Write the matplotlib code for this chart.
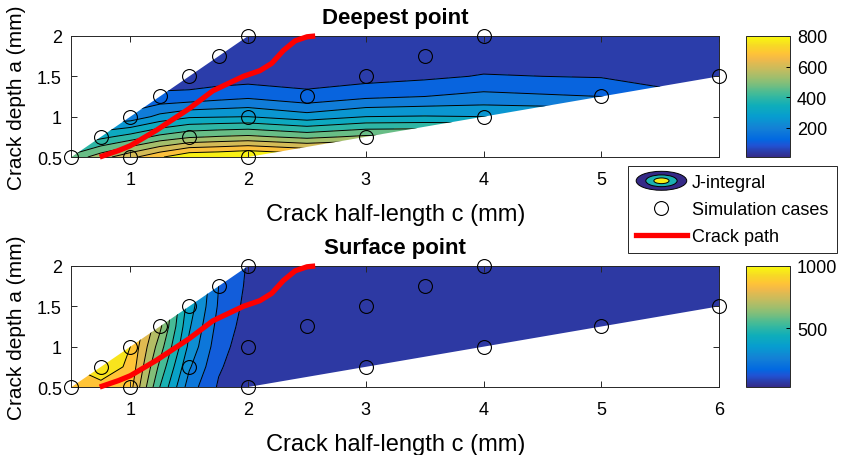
import numpy as np
import matplotlib
matplotlib.use("Agg")
import matplotlib.pyplot as plt
from matplotlib.colors import LinearSegmentedColormap, Normalize
from matplotlib.patches import Polygon, Ellipse
from matplotlib.legend_handler import HandlerBase
from matplotlib.lines import Line2D
from matplotlib.cm import ScalarMappable

plt.rcParams['font.family'] = ['Liberation Sans', 'DejaVu Sans']

c_nodes = [0.5, 0.75, 1.0, 1.25, 1.5, 1.75, 2.0, 2.5, 3.0, 3.5, 4.0, 5.0, 6.0]
a_nodes = [0.5, 0.75, 1.0, 1.25, 1.5, 1.75, 2.0]

# rows = a_nodes, cols = c_nodes
J_deepest = [
    [450, 540, 620, 700, 770, 780, 800, 760, 780, 790, 800, 800, 800],
    [300, 340, 390, 450, 490, 505, 515, 480, 515, 520, 520, 520, 520],
    [170, 170, 175, 240, 280, 285, 290, 250, 290, 295, 290, 280, 270],
    [80, 80, 85, 95, 100, 120, 135, 100, 135, 150, 170, 150, 80],
    [40, 40, 40, 40, 40, 42, 45, 45, 50, 65, 85, 75, 45],
    [25, 28, 28, 28, 30, 30, 30, 30, 30, 32, 40, 35, 35],
    [20, 20, 20, 20, 20, 20, 20, 20, 20, 22, 25, 25, 25],
]
J_surface = [
    [850, 870, 850, 500, 220, 90, 40, 30, 28, 26, 25, 25, 25],
    [900, 960, 880, 560, 270, 110, 45, 30, 28, 26, 25, 25, 25],
    [900, 980, 900, 620, 320, 130, 55, 32, 28, 26, 25, 25, 25],
    [900, 980, 920, 680, 350, 150, 65, 35, 28, 26, 25, 25, 25],
    [900, 980, 920, 700, 380, 170, 75, 38, 30, 27, 25, 25, 25],
    [900, 980, 920, 700, 400, 180, 85, 40, 30, 27, 25, 25, 25],
    [900, 980, 920, 700, 400, 200, 90, 42, 30, 27, 25, 25, 25],
]
levels_deepest = [10, 80, 150, 220, 290, 360, 430, 500, 570, 640, 710, 850]
levels_surface = [25, 100, 180, 260, 340, 420, 500, 580, 660, 740, 820, 900, 1000]
crange_deepest = (10, 800)
crange_surface = (25, 1000)
cticks_deepest = [200, 400, 600, 800]
cticks_surface = [500, 1000]

sim_c = [0.5, 0.75, 1, 1, 1.25, 1.5, 1.5, 1.75, 2, 2, 2, 2.5, 3, 3, 3.5, 4, 4, 5, 6]
sim_a = [0.5, 0.75, 0.5, 1, 1.25, 0.75, 1.5, 1.75, 0.5, 1, 2, 1.25, 0.75, 1.5, 1.75, 1, 2, 1.25, 1.5]

path_c = [0.74, 0.9, 1.0, 1.22, 1.5, 1.7, 1.96, 2.1, 2.2, 2.3, 2.4, 2.5, 2.57]
path_a = [0.5, 0.58, 0.64, 0.83, 1.1, 1.32, 1.5, 1.57, 1.66, 1.82, 1.94, 1.99, 2.0]

xticks = [1, 2, 3, 4, 5, 6]
yticks = [0.5, 1, 1.5, 2]
xlo, xhi, ylo, yhi = 0.5, 6, 0.5, 2

# parula-like anchors
parula = LinearSegmentedColormap.from_list("parula", [
    (0.000, (0.2081, 0.1663, 0.5292)),
    (0.095, (0.1253, 0.3242, 0.8303)),
    (0.143, (0.0060, 0.4086, 0.8828)),
    (0.238, (0.0779, 0.5040, 0.8384)),
    (0.333, (0.0265, 0.6137, 0.8135)),
    (0.429, (0.0590, 0.6838, 0.7254)),
    (0.524, (0.2586, 0.7317, 0.5954)),
    (0.619, (0.5300, 0.7491, 0.4661)),
    (0.714, (0.7525, 0.7384, 0.3768)),
    (0.810, (0.9450, 0.7261, 0.2886)),
    (0.857, (0.9990, 0.7653, 0.2164)),
    (0.921, (0.9697, 0.8481, 0.1475)),
    (1.000, (0.9763, 0.9831, 0.0538)),
])


class ContourKey:
    pass


class HandlerContour(HandlerBase):
    def create_artists(self, legend, orig_handle, xdescent, ydescent,
                       width, height, fontsize, trans):
        cx, cy = width / 2 - xdescent, height / 2 - ydescent
        arts = []
        for s, v in [(1.0, 0.0), (0.62, 0.45), (0.3, 0.97)]:
            arts.append(Ellipse((cx, cy), width * s, height * 1.5 * s,
                                facecolor=parula(v), edgecolor='k', lw=0.7,
                                transform=trans))
        return arts


fig = plt.figure(figsize=(8.47, 4.56), dpi=100)
ax_pos = [(0.0844, 0.6535, 0.7645, 0.2654), (0.0844, 0.1491, 0.7645, 0.2654)]
cax_pos = [(0.8808, 0.6535, 0.052, 0.2654), (0.8808, 0.1491, 0.052, 0.2654)]
panels = [
    ("Deepest point", J_deepest, levels_deepest, crange_deepest, cticks_deepest),
    ("Surface point", J_surface, levels_surface, crange_surface, cticks_surface),
]

domain = [(xlo, xlo), (yhi, yhi), (xhi, yhi), (xhi, xhi / 4), (4 * ylo, ylo)]

for i, (title, J, levels, crange, cticks) in enumerate(panels):
    ax = fig.add_axes(ax_pos[i])
    norm = Normalize(*crange)
    J = np.array(J, dtype=float)
    cs = ax.contourf(c_nodes, a_nodes, J, levels=levels, cmap=parula, norm=norm)
    cl = ax.contour(c_nodes, a_nodes, J, levels=levels[1:-1], colors='k', linewidths=0.7)
    clip = Polygon(domain, closed=True, transform=ax.transData)
    cs.set_clip_path(clip)
    cl.set_clip_path(clip)

    ax.plot(sim_c, sim_a, 'o', ms=10, mfc='none', mec='k', mew=0.8, clip_on=False, zorder=4)
    ax.plot(path_c, path_a, '-', color='red', lw=3.8, solid_capstyle='butt', clip_on=False, zorder=5)

    ax.set_xlim(xlo, xhi)
    ax.set_ylim(ylo, yhi)
    ax.set_xticks(xticks)
    # the top panel's last label sits under the legend in the original
    ax.set_xticklabels([str(t) if (i == 1 or t != xticks[-1]) else '' for t in xticks])
    ax.set_yticks(yticks)
    ax.set_yticklabels(['0.5', '1', '1.5', '2'])
    ax.tick_params(direction='in', top=True, right=True, length=4, width=0.7,
                   labelsize=13, colors='#262626', labelcolor='k')
    ax.tick_params(axis='x', pad=10)
    ax.tick_params(axis='y', pad=7)
    for sp in ax.spines.values():
        sp.set_color('#262626')
        sp.set_linewidth(0.7)
    ax.set_title(title, fontsize=16, fontweight='bold', pad=9)
    ax.set_xlabel("Crack half-length c (mm)", fontsize=17, labelpad=11)
    ax.set_ylabel("Crack depth a (mm)", fontsize=15, labelpad=8)

    cax = fig.add_axes(cax_pos[i])
    cb = fig.colorbar(ScalarMappable(norm=norm, cmap=parula), cax=cax, ticks=cticks)
    cb.outline.set_linewidth(0.7)
    cb.outline.set_edgecolor('#262626')
    cax.tick_params(direction='in', length=3, width=0.7, labelsize=13, pad=5)

handles = [ContourKey(),
           Line2D([], [], ls='none', marker='o', ms=10, mfc='none', mec='k', mew=0.8),
           Line2D([], [], color='red', lw=3.8)]
labels = ["J-integral", "Simulation cases", "Crack path"]
leg = fig.legend(handles, labels, handler_map={ContourKey: HandlerContour()},
                 loc='upper left', bbox_to_anchor=(0.7415, 0.6338), borderaxespad=0,
                 fontsize=13, frameon=True, fancybox=False, edgecolor='#262626',
                 framealpha=1, handlelength=2.8, handletextpad=0.3,
                 labelspacing=0.55, borderpad=0.45)
leg.get_frame().set_linewidth(0.7)
leg.set_zorder(10)

fig.savefig("out.png", dpi=100)
